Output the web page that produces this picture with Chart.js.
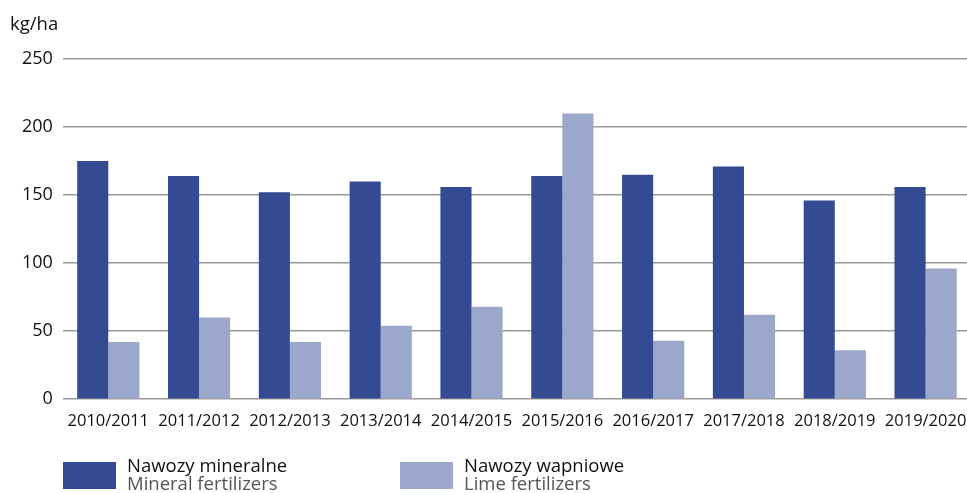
<!DOCTYPE html>
<html>
<head>
<meta charset="utf-8">
<script src="https://cdn.jsdelivr.net/npm/chart.js@4"></script>
<style>
  body { margin: 0; background: #fff; font-family: "Open Sans", sans-serif; overflow: hidden; }
  #wrap { position: relative; width: 967px; height: 493px; overflow: hidden; }
  #unit { position: absolute; left: 10px; top: 10px; font-size: 18.5px; color: #111; }
  .leg { position: absolute; top: 456px; display: flex; align-items: flex-start; }
  .leg .box { width: 53px; height: 27px; margin-top: 6px; margin-right: 11px; }
  .leg .l1 { font-size: 18.5px; color: #111; line-height: 18px; }
  .leg .l2 { font-size: 18.5px; color: #555; line-height: 18px; }
</style>
</head>
<body>
<div id="wrap">
  <canvas id="chart" width="971" height="493"></canvas>
  <div id="unit">kg/ha</div>
  <div class="leg" style="left:63px"><div class="box" style="background:#344a93"></div><div><div class="l1">Nawozy mineralne</div><div class="l2">Mineral fertilizers</div></div></div>
  <div class="leg" style="left:400px"><div class="box" style="background:#9ba8cb"></div><div><div class="l1">Nawozy wapniowe</div><div class="l2">Lime fertilizers</div></div></div>
</div>
<script>
const seasons = ["2010/2011", "2011/2012", "2012/2013", "2013/2014", "2014/2015",
  "2015/2016", "2016/2017", "2017/2018", "2018/2019", "2019/2020"];
const mineral = [175, 164, 152, 160, 156, 164, 165, 171, 146, 156];
const lime = [42, 60, 42, 54, 68, 210, 43, 62, 36, 96];
const yTicks = [0, 50, 100, 150, 200, 250];

const ctx = document.getElementById("chart").getContext("2d");
new Chart(ctx, {
  type: "bar",
  data: {
    labels: seasons,
    datasets: [
      { label: "Nawozy mineralne", data: mineral, backgroundColor: "#344a93" },
      { label: "Nawozy wapniowe", data: lime, backgroundColor: "#9ba8cb" }
    ]
  },
  options: {
    responsive: false,
    animation: false,
    layout: { padding: { top: 59, right: 0, bottom: 58, left: 12 } },
    plugins: { legend: { display: false }, tooltip: { enabled: false } },
    datasets: { bar: { barPercentage: 1, categoryPercentage: 0.685 } },
    scales: {
      x: {
        grid: { display: false },
        border: { display: false },
        ticks: { color: "#111", font: { family: "Open Sans", size: 16.5 }, maxRotation: 0, padding: 4 }
      },
      y: {
        min: 0,
        max: 250,
        afterBuildTicks: axis => { axis.ticks = yTicks.map(v => ({ value: v })); },
        grid: { color: "#9a9a9a", lineWidth: 1.5, drawTicks: false },
        border: { display: false },
        ticks: { color: "#111", font: { family: "Open Sans", size: 18 }, padding: 10 }
      }
    }
  }
});
</script>
</body>
</html>
